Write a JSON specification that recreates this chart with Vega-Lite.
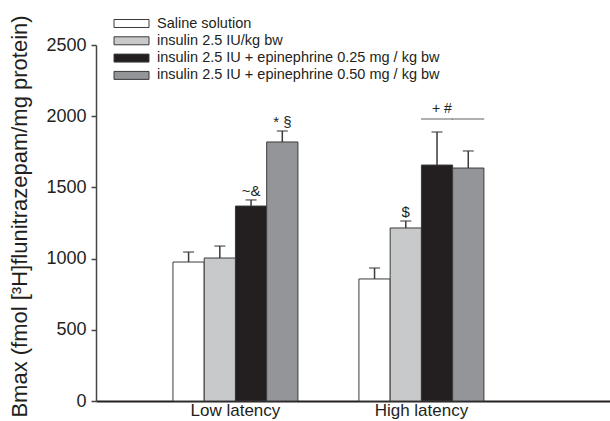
{
  "$schema": "https://vega.github.io/schema/vega-lite/v6.json",
  "autosize": {"type": "none"},
  "width": 514,
  "height": 356,
  "padding": {"left": 96, "top": 45, "right": 0, "bottom": 20},
  "background": "white",
  "config": {
    "view": {"stroke": null},
    "font": "Liberation Sans",
    "axis": {"labelFont": "Liberation Sans", "titleFont": "Liberation Sans", "labelColor": "#231f20", "titleColor": "#231f20", "grid": false},
    "legend": {"labelFont": "Liberation Sans"}
  },
  "datasets": {
    "bars": [
      {"group": "Low latency", "series": "Saline solution", "value": 976, "upper": 1046, "label": ""},
      {"group": "Low latency", "series": "insulin 2.5 IU/kg bw", "value": 1004, "upper": 1088, "label": ""},
      {"group": "Low latency", "series": "insulin 2.5 IU + epinephrine 0.25 mg / kg bw", "value": 1369, "upper": 1412, "label": "~&"},
      {"group": "Low latency", "series": "insulin 2.5 IU + epinephrine 0.50 mg / kg bw", "value": 1819, "upper": 1896, "label": "* §"},
      {"group": "High latency", "series": "Saline solution", "value": 857, "upper": 934, "label": ""},
      {"group": "High latency", "series": "insulin 2.5 IU/kg bw", "value": 1215, "upper": 1264, "label": "$"},
      {"group": "High latency", "series": "insulin 2.5 IU + epinephrine 0.25 mg / kg bw", "value": 1657, "upper": 1889, "label": ""},
      {"group": "High latency", "series": "insulin 2.5 IU + epinephrine 0.50 mg / kg bw", "value": 1636, "upper": 1756, "label": ""}
    ],
    "bracket": [
      {"group": "High latency", "series": "insulin 2.5 IU + epinephrine 0.25 mg / kg bw", "level": 1980, "label": "+    #"},
      {"group": "High latency", "series": "insulin 2.5 IU + epinephrine 0.50 mg / kg bw", "level": 1980, "label": ""}
    ]
  },
  "encoding": {
    "x": {
      "field": "group", "type": "nominal", "sort": ["Low latency", "High latency"],
      "scale": {"type": "band", "paddingInner": 0.328, "paddingOuter": 0.546, "align": 0.379},
      "axis": {"title": null, "ticks": false, "labelAngle": 0, "labelFontSize": 17, "labelPadding": 1, "domainColor": "#231f20", "domainWidth": 2}
    },
    "xOffset": {
      "field": "series", "type": "nominal",
      "sort": ["Saline solution", "insulin 2.5 IU/kg bw", "insulin 2.5 IU + epinephrine 0.25 mg / kg bw", "insulin 2.5 IU + epinephrine 0.50 mg / kg bw"],
      "scale": {"paddingInner": 0, "paddingOuter": 0}
    }
  },
  "layer": [
    {
      "data": {"name": "bars"},
      "mark": {"type": "bar", "stroke": "#3a3a3a", "strokeWidth": 1},
      "encoding": {
        "y": {
          "field": "value", "type": "quantitative",
          "scale": {"domain": [0, 2500], "nice": false},
          "axis": {
            "values": [0, 500, 1000, 1500, 2000, 2500], "format": "d",
            "title": "Bmax (fmol [³H]flunitrazepam/mg protein)",
            "titleFontSize": 22, "titleFontWeight": "normal",
            "titleX": -65, "titleY": 171,
            "labelFontSize": 18, "labelPadding": 5, "tickSize": 5,
            "tickColor": "#444", "domainColor": "#444", "domainWidth": 1.5, "tickWidth": 1.5
          }
        },
        "fill": {
          "field": "series", "type": "nominal",
          "scale": {
            "domain": ["Saline solution", "insulin 2.5 IU/kg bw", "insulin 2.5 IU + epinephrine 0.25 mg / kg bw", "insulin 2.5 IU + epinephrine 0.50 mg / kg bw"],
            "range": ["#ffffff", "#c8c9cb", "#231f20", "#939598"]
          },
          "legend": {
            "title": null, "orient": "none", "legendX": 28, "legendY": -29,
            "symbolType": "M-2.5,-0.57H2.5V0.57H-2.5Z", "symbolSize": 196,
            "symbolStrokeColor": "#3a3a3a", "symbolStrokeWidth": 1,
            "labelFontSize": 14.5, "labelColor": "#231f20", "labelOffset": 18, "labelLimit": 0, "rowPadding": 2.3
          }
        }
      }
    },
    {
      "data": {"name": "bars"},
      "mark": {"type": "rule", "color": "#3a3a3a", "strokeWidth": 1.5},
      "encoding": {
        "y": {"field": "value", "type": "quantitative"},
        "y2": {"field": "upper"}
      }
    },
    {
      "data": {"name": "bars"},
      "mark": {"type": "tick", "color": "#3a3a3a", "thickness": 1.5, "size": 11},
      "encoding": {
        "y": {"field": "upper", "type": "quantitative"}
      }
    },
    {
      "data": {"name": "bars"},
      "mark": {"type": "text", "fontSize": 15, "baseline": "alphabetic", "dy": -4, "color": "#231f20"},
      "encoding": {
        "y": {"field": "upper", "type": "quantitative"},
        "text": {"field": "label"}
      }
    },
    {
      "data": {"name": "bracket"},
      "mark": {"type": "tick", "color": "#231f20", "thickness": 1, "size": 32},
      "encoding": {
        "y": {"field": "level", "type": "quantitative"}
      }
    },
    {
      "data": {"name": "bracket"},
      "mark": {"type": "text", "fontSize": 14, "baseline": "alphabetic", "align": "left", "dx": -5, "dy": -6, "color": "#231f20"},
      "encoding": {
        "y": {"field": "level", "type": "quantitative"},
        "text": {"field": "label"}
      }
    }
  ]
}
